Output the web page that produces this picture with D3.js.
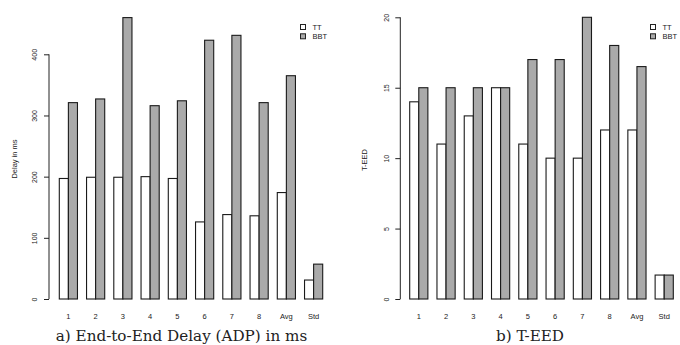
<!DOCTYPE html>
<html><head><meta charset="utf-8">
<script src="https://cdn.jsdelivr.net/npm/d3@7"></script>
<style>body{margin:0;background:#fff}svg{display:block}</style>
</head><body>
<svg id="c" width="680" height="345"></svg>
<script>
const categories = ["1","2","3","4","5","6","7","8","Avg","Std"];
const series = ["TT","BBT"];
const delayTT  = [197,199,199,200,197,126,138,136,174,31];
const delayBBT = [321,327,460,316,324,423,431,321,365,57];
const teedTT   = [14,11,13,15,11,10,10,12,12,1.7];
const teedBBT  = [15,15,15,15,17,17,20,18,16.5,1.7];
const delayTicks = [0,100,200,300,400];
const teedTicks = [0,5,10,15,20];
const colors = {TT:"#ffffff", BBT:"#aaaaaa"};

const svg = d3.select("#c");

function panel(cfg){
  const g = svg.append("g");
  const x = d3.scaleBand().domain(categories).range(cfg.xr).paddingInner(1/3).paddingOuter(0);
  const xs = d3.scaleBand().domain(series).range([0, x.bandwidth()]);
  const y = d3.scaleLinear().domain(cfg.yd).range([299, cfg.ytop]);
  const data = categories.map((c,i)=>({c, vals:[{s:"TT",v:cfg.tt[i]},{s:"BBT",v:cfg.bbt[i]}]}));
  const grp = g.selectAll("g.grp").data(data).join("g").attr("transform", d=>`translate(${x(d.c)},0)`);
  grp.selectAll("rect").data(d=>d.vals).join("rect")
    .attr("x", d=>xs(d.s)).attr("width", xs.bandwidth())
    .attr("y", d=>y(d.v)).attr("height", d=>y(0)-y(d.v))
    .attr("fill", d=>colors[d.s]).attr("stroke","#1a1a1a").attr("stroke-width",1.1);
  const ax = g.append("g").attr("transform",`translate(${cfg.axisX},0)`)
    .call(d3.axisLeft(y).tickValues(cfg.ticks).tickSize(5).tickSizeOuter(0).tickFormat(d3.format("d")));
  ax.select(".domain").attr("d", `M0,${y(cfg.ticks[0])}V${y(cfg.ticks[cfg.ticks.length-1])}`).attr("stroke","#222");
  ax.selectAll(".tick line").attr("stroke","#222");
  ax.selectAll(".tick text").attr("transform","rotate(-90)").attr("x",0).attr("y",-14).attr("dy","0.35em")
    .attr("text-anchor","middle").style("font-family","Liberation Sans, Arial, sans-serif").style("font-size","7px").attr("fill","#222");
  g.selectAll("text.xl").data(categories).join("text").attr("class","xl")
    .attr("x", d=>x(d)+x.bandwidth()/2).attr("y", 319).attr("text-anchor","middle")
    .style("font-family","Liberation Sans, Arial, sans-serif").style("font-size","7.5px").attr("fill","#222").text(d=>d);
  g.append("text").attr("transform",`translate(${cfg.ylabX},${cfg.ylabY}) rotate(-90)`).attr("text-anchor","middle")
    .style("font-family","Liberation Sans, Arial, sans-serif").style("font-size","7.5px").attr("fill","#222").text(cfg.ylab);
  const lg = g.append("g").attr("transform",`translate(${cfg.legX},0)`);
  series.forEach((s,i)=>{
    lg.append("rect").attr("x",0).attr("y",24.5+i*9.3).attr("width",5).attr("height",5)
      .attr("fill",colors[s]).attr("stroke","#222").attr("stroke-width",1);
    lg.append("text").attr("x",12).attr("y",27+i*9.3).attr("dy","0.35em")
      .style("font-family","Liberation Sans, Arial, sans-serif").style("font-size","7.5px").attr("fill","#222").text(s);
  });
  g.append("text").attr("x",cfg.capX).attr("y",341).attr("text-anchor","middle")
    .style("font-family","DejaVu Serif, serif").style("font-size","15.2px").attr("fill","#222").text(cfg.cap);
}

panel({xr:[59.3,322.7], yd:[0,400], ytop:54.3, tt:delayTT, bbt:delayBBT, ticks:delayTicks,
  axisX:49, ylab:"Delay in ms", ylabX:17, ylabY:159, legX:300.5, capX:181.5, cap:"a) End-to-End Delay (ADP) in ms"});
panel({xr:[409.7,673.3], yd:[0,20], ytop:17.3, tt:teedTT, bbt:teedBBT, ticks:teedTicks,
  axisX:400.3, ylab:"T-EED", ylabX:367, ylabY:160, legX:650.5, capX:530, cap:"b) T-EED"});
</script>
</body></html>
